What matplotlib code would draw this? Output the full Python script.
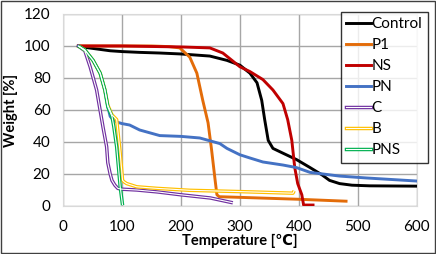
import matplotlib
matplotlib.use("Agg")
import matplotlib.pyplot as plt
from matplotlib.lines import Line2D
from matplotlib.legend_handler import HandlerTuple
from matplotlib.patches import Rectangle

plt.rcParams['font.family'] = ['Lato', 'DejaVu Sans']

# TGA curves (temperature in C, weight in %)
control_t = [26, 40, 60, 80, 100, 130, 164, 200, 249, 278, 300, 317, 329, 337, 342, 348,
             356, 373, 396, 419, 439, 452, 469, 490, 520, 600]
control_w = [100, 99, 98, 97, 96.5, 96, 95.6, 95, 93.7, 91, 88, 83, 77, 66, 54, 41,
             36, 33, 29, 24, 19.5, 16, 14, 13, 12.6, 12.4]

p1_t = [26, 100, 150, 180, 198, 215, 227, 237, 246, 252, 258, 261, 265, 300, 400, 480]
p1_w = [100, 100, 100, 99.6, 98.8, 93, 83, 66, 52, 35, 16, 7, 5.8, 5.4, 4.2, 3]

ns_t = [26, 100, 164, 200, 249, 271, 300, 317, 339, 356, 373, 381, 388, 393, 398, 405,
        408, 424]
ns_w = [100, 100, 99.6, 99.4, 98.8, 95.6, 87, 84, 79, 72.5, 64, 54, 41, 24, 14, 7,
        0.6, 0.6]

pn_t = [26, 37, 51, 63, 71, 76, 80, 86, 91, 100, 113, 130, 164, 200, 232, 266, 278,
        300, 317, 339, 373, 396, 419, 469, 515, 600]
pn_w = [100, 97.5, 91, 83, 72.5, 62, 56, 53.5, 52.5, 51.5, 50.6, 47.5, 44, 43.5, 42.5,
        39, 36, 32, 30, 27.5, 25.6, 24, 21, 18.7, 17.5, 15.6]

c_t = [26, 37, 46, 57, 68, 74, 76, 80, 83, 88, 93, 100, 125, 160, 200, 250, 288]
c_w = [100, 97, 87, 72.5, 49, 37, 27, 20, 16, 13, 11, 10.5, 10, 8.8, 7, 5, 2]

b_t = [26, 37, 51, 63, 71, 76, 83, 91, 97, 101, 104, 108, 125, 160, 215, 300, 390, 392]
b_w = [100, 97.5, 91, 83, 72.5, 63, 57, 54, 33, 16, 15, 14, 12, 11, 9.8, 9, 8, 9.5]

pns_t = [26, 37, 51, 63, 71, 76, 83, 86, 91, 97, 101]
pns_w = [100, 97.5, 91, 83, 72.5, 62, 56, 50, 37, 12, 0.5]

fig = plt.figure(figsize=(4.36, 2.54), dpi=100)
ax = fig.add_axes([0.1445, 0.189, 0.8115, 0.756])

grid_c = '#a6a6a6'
ax.plot(control_t, control_w, color='black', lw=2.1, zorder=3)
ax.plot(p1_t, p1_w, color='#e36c09', lw=2.1, zorder=3)
ax.plot(ns_t, ns_w, color='#c00000', lw=2.1, zorder=3)
ax.plot(pn_t, pn_w, color='#4472c4', lw=2.1, zorder=3)

# double lines for C, B and PNS
for t, w, col in [(c_t, c_w, '#7030a0'), (b_t, b_w, '#ffc000'), (pns_t, pns_w, '#00b050')]:
    ax.plot(t, w, color=col, lw=2.5, zorder=4, solid_capstyle='butt')
    ax.plot(t, w, color='white', lw=0.8, zorder=5, solid_capstyle='butt')

ax.set_xlim(0, 600)
ax.set_ylim(0, 120)
ax.set_xticks(range(0, 601, 100))
ax.set_yticks(range(0, 121, 20))
ax.grid(True, color=grid_c, lw=1)
ax.set_axisbelow(True)
for s in ax.spines.values():
    s.set_color('#d9d9d9')
ax.tick_params(length=0, labelsize=11, pad=9)
ax.tick_params(axis='x', pad=10)
ax.set_xlabel('Temperature [\u2103]', fontsize=10.5, fontweight='bold', labelpad=0)
ax.set_ylabel('Weight [%]', fontsize=10.5, fontweight='bold', labelpad=4)

def single(col):
    return Line2D([], [], color=col, lw=2.1)

def double(col):
    return (Line2D([], [], color=col, lw=2.5), Line2D([], [], color='white', lw=0.8))

handles = [single('black'), single('#e36c09'), single('#c00000'), single('#4472c4'),
           double('#7030a0'), double('#ffc000'), double('#00b050')]
labels = ['Control', 'P1', 'NS', 'PN', 'C', 'B', 'PNS']
leg = fig.legend(handles, labels, loc='upper left', bbox_to_anchor=(0.782, 0.953),
                 fontsize=11, frameon=True, fancybox=False, edgecolor='black',
                 handlelength=1.6, handletextpad=0.05, labelspacing=0.46,
                 borderpad=0.35, borderaxespad=0,
                 handler_map={tuple: HandlerTuple(ndivide=1)})
leg.get_frame().set_linewidth(1)
leg.set_zorder(10)

fig.patches.append(Rectangle((0.002, 0.002), 0.996, 0.994, transform=fig.transFigure,
                             fill=False, edgecolor='#404040', lw=1))

fig.savefig('out.png', dpi=100)
